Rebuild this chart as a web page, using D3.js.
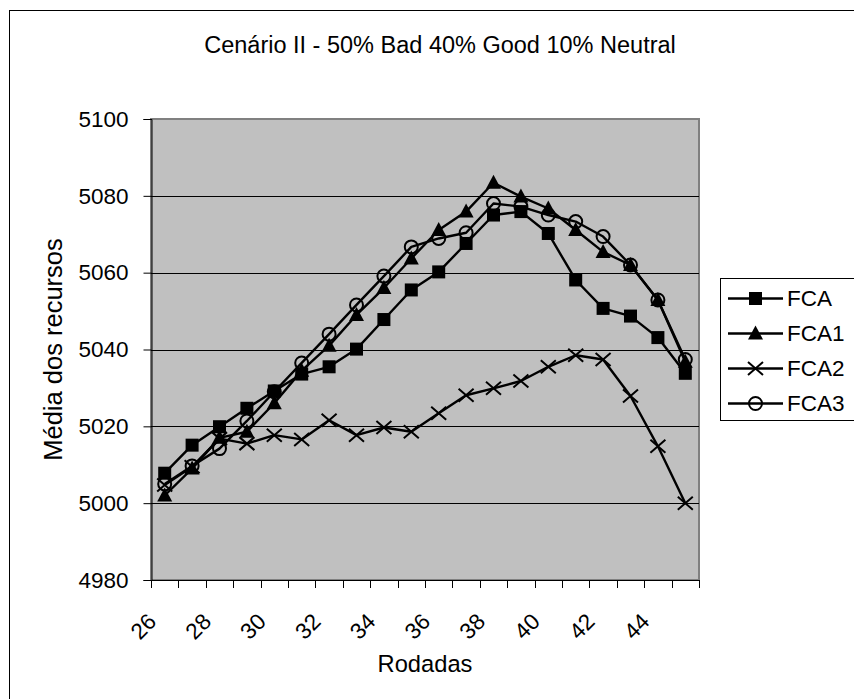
<!DOCTYPE html>
<html>
<head>
<meta charset="utf-8">
<script src="https://cdn.jsdelivr.net/npm/d3@7"></script>
<style>
  body { margin: 0; background: #fff; }
  svg { display: block; font-family: "Liberation Sans", Arial, sans-serif; }
</style>
</head>
<body>
<div id="chart"></div>
<script>
// rounds 26..45
let rounds = d3.range(26, 46);
let tickLabels = [26, 28, 30, 32, 34, 36, 38, 40, 42, 44];
let yTicks = [4980, 5000, 5020, 5040, 5060, 5080, 5100];

let fca  = [5007.8, 5015.1, 5019.9, 5024.7, 5029.2, 5033.6, 5035.5, 5040.1, 5047.8, 5055.5,
            5060.2, 5067.6, 5075.0, 5075.9, 5070.2, 5058.1, 5050.7, 5048.7, 5043.1, 5033.8];
let fca1 = [5002.0, 5009.0, 5017.0, 5018.6, 5026.0, 5034.5, 5041.0, 5049.0, 5056.0, 5063.7,
            5071.1, 5075.9, 5083.4, 5079.8, 5076.7, 5071.1, 5065.4, 5062.0, 5052.9, 5036.8];
let fca2 = [5004.7, 5009.5, 5016.8, 5015.5, 5017.7, 5016.6, 5021.6, 5017.7, 5019.7, 5018.6,
            5023.4, 5028.1, 5029.9, 5031.8, 5035.5, 5038.5, 5037.4, 5027.9, 5014.8, 5000.0];
let fca3 = [5005.0, 5009.7, 5014.2, 5021.4, 5029.0, 5036.5, 5044.0, 5051.6, 5059.1, 5066.7,
            5068.9, 5070.4, 5078.0, 5077.2, 5075.0, 5073.3, 5069.4, 5062.0, 5052.9, 5037.4];

let seriesNames = ['FCA', 'FCA1', 'FCA2', 'FCA3'];
let seriesValues = [fca, fca1, fca2, fca3];
let markerTypes = ['square', 'triangle', 'cross', 'circle'];

let elWidth = 854, elHeight = 699;
let plot = {left: 151, top: 119, right: 699, bottom: 580};

let svg = d3.select('#chart').append('svg')
    .attr('width', elWidth)
    .attr('height', elHeight);

// outer chart frame runs off the page on the right and bottom
svg.append('rect')
    .attr('x', 9.5).attr('y', 10.5)
    .attr('width', 900).attr('height', 760)
    .attr('fill', '#fff')
    .attr('stroke', '#000')
    .attr('stroke-width', 1);

let x = d3.scaleBand().domain(rounds).range([plot.left, plot.right]).paddingInner(0).paddingOuter(0);
let y = d3.scaleLinear().domain([4980, 5100]).range([plot.bottom, plot.top]);
let cx = function(d) { return x(d) + x.bandwidth() / 2; };

// plot area
svg.append('rect')
    .attr('x', plot.left).attr('y', plot.top)
    .attr('width', plot.right - plot.left).attr('height', plot.bottom - plot.top)
    .attr('fill', '#c0c0c0')
    .attr('stroke', '#808080')
    .attr('stroke-width', 2);

// gridlines
svg.append('g')
    .selectAll('line')
    .data(yTicks.slice(1, -1))
    .join('line')
    .attr('x1', plot.left).attr('x2', plot.right)
    .attr('y1', function(d) { return Math.round(y(d)) + 0.5; })
    .attr('y2', function(d) { return Math.round(y(d)) + 0.5; })
    .attr('stroke', '#000')
    .attr('stroke-width', 1);

// y axis
let yAxis = svg.append('g')
    .attr('transform', 'translate(' + (plot.left + 0.5) + ',0)')
    .call(d3.axisLeft(y).tickValues(yTicks).tickSize(8).tickPadding(15).tickFormat(d3.format('d')));
yAxis.select('.domain').attr('stroke', '#000');
yAxis.selectAll('.tick line').attr('stroke', '#000');
yAxis.selectAll('.tick text')
    .attr('font-size', 22.5)
    .attr('font-family', '"Liberation Sans", Arial, sans-serif')
    .attr('fill', '#000');

// x axis line, ticks at category boundaries
let xg = svg.append('g');
xg.append('line')
    .attr('x1', plot.left).attr('x2', plot.right + 1)
    .attr('y1', plot.bottom + 0.5).attr('y2', plot.bottom + 0.5)
    .attr('stroke', '#000');
xg.selectAll('.xtick')
    .data(rounds.concat([null]))
    .join('line')
    .attr('class', 'xtick')
    .attr('x1', function(d) { return Math.round(d === null ? plot.right : x(d)) + 0.5; })
    .attr('x2', function(d) { return Math.round(d === null ? plot.right : x(d)) + 0.5; })
    .attr('y1', plot.bottom).attr('y2', plot.bottom + 8)
    .attr('stroke', '#000');
xg.selectAll('.xlabel')
    .data(tickLabels)
    .join('text')
    .attr('class', 'xlabel')
    .attr('transform', function(d) { return 'translate(' + (cx(d) - 7) + ',' + 623 + ') rotate(-45)'; })
    .attr('text-anchor', 'end')
    .attr('font-size', 22.5)
    .text(function(d) { return d; });

// axis titles and chart title
svg.append('text')
    .attr('x', 440).attr('y', 53)
    .attr('text-anchor', 'middle')
    .attr('font-size', 23.5)
    .text('Cenário II - 50% Bad 40% Good 10% Neutral');

svg.append('text')
    .attr('x', (plot.left + plot.right) / 2).attr('y', 672)
    .attr('text-anchor', 'middle')
    .attr('font-size', 23.7)
    .text('Rodadas');

svg.append('text')
    .attr('transform', 'translate(62,' + ((plot.top + plot.bottom) / 2) + ') rotate(-90)')
    .attr('text-anchor', 'middle')
    .attr('font-size', 25.5)
    .text('Média dos recursos');

// marker drawing
function drawMarker(sel, type) {
    if (type === 'square') {
        sel.append('rect')
            .attr('x', -6.5).attr('y', -6.5).attr('width', 13).attr('height', 13)
            .attr('fill', '#000');
    } else if (type === 'triangle') {
        sel.append('path')
            .attr('d', 'M0,-8L7.5,6L-7.5,6Z')
            .attr('fill', '#000');
    } else if (type === 'cross') {
        sel.append('path')
            .attr('d', 'M-7.5,-6.5L7.5,6.5M-7.5,6.5L7.5,-6.5')
            .attr('stroke', '#000')
            .attr('stroke-width', 2)
            .attr('fill', 'none');
    } else if (type === 'circle') {
        sel.append('circle')
            .attr('r', 6.5)
            .attr('fill', 'none')
            .attr('stroke', '#000')
            .attr('stroke-width', 2);
    }
}

let line = d3.line()
    .x(function(d) { return cx(d.round); })
    .y(function(d) { return y(d.value); });

seriesValues.forEach(function(values, k) {
    let data = values.map(function(v, i) { return {round: rounds[i], value: v}; });
    let g = svg.append('g');
    g.append('path')
        .datum(data)
        .attr('fill', 'none')
        .attr('stroke', '#000')
        .attr('stroke-width', 2.4)
        .attr('stroke-linejoin', 'round')
        .attr('d', line);
    g.selectAll('.marker')
        .data(data)
        .join('g')
        .attr('class', 'marker')
        .attr('transform', function(d) { return 'translate(' + cx(d.round) + ',' + y(d.value) + ')'; })
        .each(function() { drawMarker(d3.select(this), markerTypes[k]); });
});

// legend
let legend = svg.append('g');
legend.append('rect')
    .attr('x', 720.5).attr('y', 278.5)
    .attr('width', 200).attr('height', 142)
    .attr('fill', '#fff')
    .attr('stroke', '#000');
let legendRows = legend.selectAll('.row')
    .data(seriesNames)
    .join('g')
    .attr('class', 'row')
    .attr('transform', function(d, i) { return 'translate(0,' + (298.5 + i * 35) + ')'; });
legendRows.append('line')
    .attr('x1', 728).attr('x2', 783)
    .attr('stroke', '#000').attr('stroke-width', 2.4);
legendRows.append('g')
    .attr('transform', 'translate(755.5,0)')
    .each(function(d, i) { drawMarker(d3.select(this), markerTypes[i]); });
legendRows.append('text')
    .attr('x', 787).attr('dy', '0.35em')
    .attr('font-size', 22.5)
    .text(function(d) { return d; });
</script>
</body>
</html>
